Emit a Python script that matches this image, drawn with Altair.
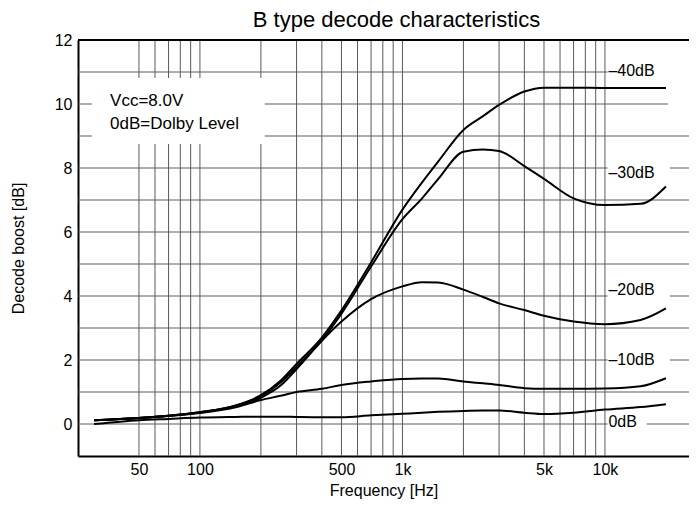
import altair as alt
import pandas as pd

FONT = "Liberation Sans"

# ---- data ----
freq = [30, 50, 70, 100, 150, 200, 250, 300, 400, 500, 700, 1000, 1250, 1500,
        2000, 2500, 3000, 4000, 5000, 7000, 10000, 15000, 20000]
m40 = [0.12, 0.19, 0.26, 0.37, 0.58, 0.90, 1.35, 1.88, 2.70, 3.55, 5.05, 6.70, 7.55, 8.20,
       9.19, 9.62, 9.97, 10.39, 10.51, 10.51, 10.50, 10.50, 10.50]
m30 = [0.12, 0.19, 0.26, 0.37, 0.57, 0.87, 1.30, 1.80, 2.62, 3.45, 4.92, 6.40, 7.05, 7.65,
       8.51, 8.58, 8.53, 8.06, 7.66, 7.05, 6.84, 6.88, 7.42]
m20 = [0.12, 0.19, 0.26, 0.36, 0.55, 0.82, 1.20, 1.72, 2.60, 3.20, 3.90, 4.30, 4.43, 4.42,
       4.20, 3.97, 3.77, 3.56, 3.38, 3.20, 3.12, 3.25, 3.61]
m10 = [0.12, 0.19, 0.25, 0.34, 0.52, 0.75, 0.88, 1.00, 1.10, 1.22, 1.33, 1.41, 1.42, 1.42,
       1.33, 1.27, 1.22, 1.12, 1.10, 1.10, 1.11, 1.18, 1.43]
m0 = [0.00, 0.12, 0.16, 0.20, 0.22, 0.23, 0.23, 0.22, 0.21, 0.21, 0.27, 0.32, 0.35, 0.38,
      0.41, 0.42, 0.42, 0.35, 0.31, 0.35, 0.45, 0.53, 0.62]

series_names = ["-40dB", "-30dB", "-20dB", "-10dB", "0dB"]
series_vals = [m40, m30, m20, m10, m0]

x_ticks = [50, 100, 500, 1000, 5000, 10000]
y_ticks = [0, 2, 4, 6, 8, 10, 12]
x_grid = [50, 60, 70, 80, 90, 100, 200, 300, 400, 500, 600, 700, 800, 900, 1000,
          2000, 3000, 4000, 5000, 6000, 7000, 8000, 9000, 10000]
y_grid = [0, 1, 2, 3, 4, 5, 6, 7, 8, 9, 10, 11]

curve_labels = ["\u201340dB", "\u201330dB", "\u201320dB", "\u201310dB", "0dB"]
label_y = [11.04, 7.84, 4.19, 2.0, 0.06]
label_x = 10400

X_MIN, X_MAX = 25, 26000
Y_MIN, Y_MAX = -1, 12

# white boxes behind annotations (data coordinates)
box_x1 = [29.3, 10300, 10300, 10300, 10300, 10300, 20500]
box_x2 = [209, X_MAX, 20900, 20900, 20900, 16100, X_MAX]
box_y1 = [8.75, 10.7, 7.55, 3.8, 1.7, -0.3, 9.85]
box_y2 = [10.81, 11.4, 8.2, 4.55, 2.35, 0.35, 10.15]

note_lines = ["Vcc=8.0V", "0dB=Dolby Level"]
note_y = [10.1, 9.38]
note_x = 36

# ---- tables ----
curves = pd.DataFrame(
    [{"f": f, "v": v, "s": n} for n, vals in zip(series_names, series_vals)
     for f, v in zip(freq, vals)]
)
vgrid = pd.DataFrame({"f": x_grid})
hgrid = pd.DataFrame({"v": y_grid})
boxes = pd.DataFrame({"x1": box_x1, "x2": box_x2, "y1": box_y1, "y2": box_y2})
labels = pd.DataFrame({"t": curve_labels, "y": label_y, "x": [label_x] * len(curve_labels)})
notes = pd.DataFrame({"t": note_lines, "y": note_y, "x": [note_x] * len(note_lines)})

xs = alt.Scale(type="log", domain=[X_MIN, X_MAX], nice=False)
ys = alt.Scale(domain=[Y_MIN, Y_MAX], nice=False, zero=False)

x_axis = alt.Axis(
    values=x_ticks,
    labelExpr="datum.value >= 1000 ? (datum.value / 1000) + 'k' : datum.value",
    grid=False, ticks=False, domainColor="black", domainWidth=2,
    labelFontSize=16, labelPadding=5, labelColor="black", labelFont=FONT,
    title="Frequency [Hz]", titleFontSize=16, titleFontWeight="normal",
    titleFont=FONT, titleColor="black", titlePadding=5, labelFlush=False,
)
y_axis = alt.Axis(
    values=y_ticks, grid=False, ticks=False, domainColor="black", domainWidth=2,
    labelFontSize=16, labelPadding=6, labelColor="black", labelFont=FONT,
    title="Decode boost [dB]", titleFontSize=16, titleFontWeight="normal",
    titleFont=FONT, titleColor="black", titlePadding=28, labelFlush=False,
)


def X(field):
    return alt.X(field, scale=xs, axis=x_axis)


def Y(field):
    return alt.Y(field, scale=ys, axis=y_axis)


GRID = "#5a5a5a"

vg = alt.Chart(vgrid).mark_rule(color=GRID, strokeWidth=1).encode(
    x=X("f:Q"),
    y=alt.YDatum(Y_MIN, scale=ys, axis=y_axis),
    y2=alt.Y2Datum(Y_MAX),
)
hg = alt.Chart(hgrid).mark_rule(color=GRID, strokeWidth=1).encode(
    y=Y("v:Q"),
    x=alt.XDatum(X_MIN, scale=xs, axis=x_axis),
    x2=alt.X2Datum(X_MAX),
)
top = alt.Chart(pd.DataFrame({"v": [Y_MAX]})).mark_rule(color="black", strokeWidth=2).encode(
    y=Y("v:Q"),
    x=alt.XDatum(X_MIN, scale=xs, axis=x_axis),
    x2=alt.X2Datum(X_MAX),
)
bx = alt.Chart(boxes).mark_rect(fill="white").encode(
    x=X("x1:Q"), x2="x2:Q",
    y=Y("y1:Q"), y2="y2:Q",
)
ln = alt.Chart(curves).mark_line(interpolate="monotone", color="black", strokeWidth=2).encode(
    x=X("f:Q"),
    y=Y("v:Q"),
    detail="s:N",
)
lb = alt.Chart(labels).mark_text(align="left", baseline="middle", fontSize=16, font=FONT,
                                 color="black").encode(
    x=X("x:Q"),
    y=Y("y:Q"),
    text="t:N",
)
nt = alt.Chart(notes).mark_text(align="left", baseline="middle", fontSize=17, font=FONT,
                                color="black").encode(
    x=X("x:Q"),
    y=Y("y:Q"),
    text="t:N",
)

chart = alt.layer(vg, hg, bx, top, ln, lb, nt).properties(
    width=611, height=416,
    padding={"left": 70, "top": 32, "right": 0, "bottom": 48},
    autosize=alt.AutoSizeParams(type="none"),
    title=alt.Title("B type decode characteristics", fontSize=22, font=FONT,
                    fontWeight="normal", color="black", anchor="middle", dx=13, offset=0),
).configure_view(stroke=None).configure(background="white")

chart.save("out.html", embed_options={"renderer": "svg", "actions": False})
